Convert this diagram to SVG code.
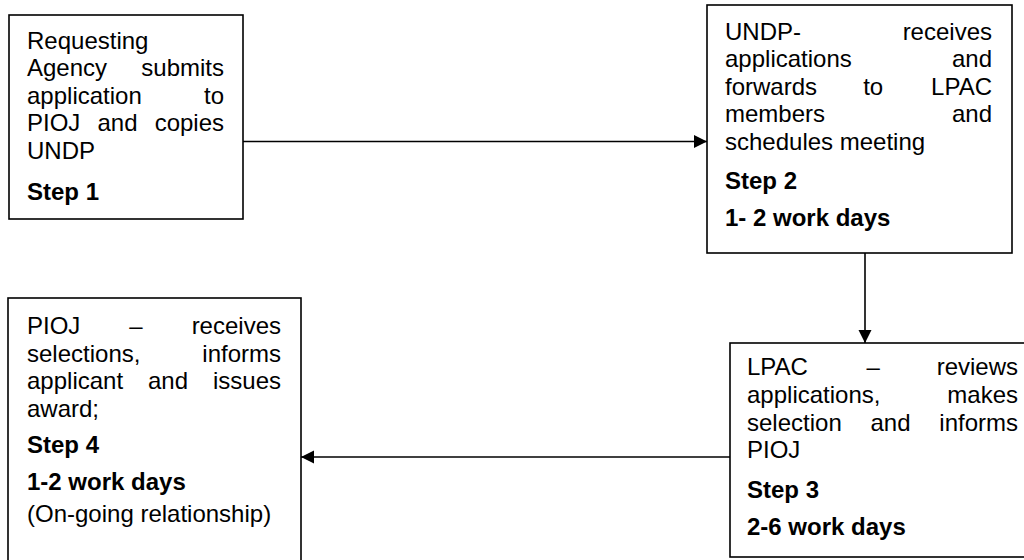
<svg xmlns="http://www.w3.org/2000/svg" width="1024" height="560" viewBox="0 0 1024 560">
<style>
.box{fill:#fff;stroke:#000;stroke-width:1.6}
.t{font-family:"Liberation Sans",Arial,sans-serif;font-size:24px;fill:#000}
.b{font-weight:bold}
.e{text-anchor:end}
.c{fill:none;stroke:#000;stroke-width:1.6}
</style>
<defs>
<marker id="ah" markerUnits="userSpaceOnUse" markerWidth="14" markerHeight="14" viewBox="0 0 14 14" refX="13" refY="7" orient="auto">
<path d="M0,0.5 L13,7 L0,13.5 Z" fill="#000"/>
</marker>
</defs>
<rect width="1024" height="560" fill="#fff"/>
<g id="connectors">
<line class="c" x1="243" y1="141.5" x2="707" y2="141.5" marker-end="url(#ah)"/>
<line class="c" x1="865" y1="253" x2="865" y2="343" marker-end="url(#ah)"/>
<line class="c" x1="730" y1="457" x2="301" y2="457" marker-end="url(#ah)"/>
</g>
<g id="step1">
<rect class="box" x="9" y="15" width="234" height="204"/>
<text class="t" x="27" y="48.5">Requesting</text>
<text class="t" x="27" y="76">Agency</text><text class="t e" x="224" y="76">submits</text>
<text class="t" x="27" y="103.5">application</text><text class="t e" x="224" y="103.5">to</text>
<text class="t" x="27" y="131">PIOJ</text><text class="t" x="97.5" y="131">and</text><text class="t e" x="224" y="131">copies</text>
<text class="t" x="27" y="158.5">UNDP</text>
<text class="t b" x="27" y="200">Step 1</text>
</g>
<g id="step2">
<rect class="box" x="707" y="5" width="305" height="248"/>
<text class="t" x="725" y="39.5">UNDP-</text><text class="t e" x="992" y="39.5">receives</text>
<text class="t" x="725" y="67">applications</text><text class="t e" x="992" y="67">and</text>
<text class="t" x="725" y="94.5">forwards</text><text class="t" x="863.2" y="94.5">to</text><text class="t e" x="992" y="94.5">LPAC</text>
<text class="t" x="725" y="122">members</text><text class="t e" x="992" y="122">and</text>
<text class="t" x="725" y="149.5">schedules meeting</text>
<text class="t b" x="725" y="189">Step 2</text>
<text class="t b" x="725" y="226">1- 2 work days</text>
</g>
<g id="step3">
<rect class="box" x="730" y="343" width="310" height="214"/>
<text class="t" x="747" y="375">LPAC</text><text class="t" x="866.5" y="375">–</text><text class="t e" x="1018" y="375">reviews</text>
<text class="t" x="747" y="403">applications,</text><text class="t e" x="1018" y="403">makes</text>
<text class="t" x="747" y="430.5">selection</text><text class="t" x="870.5" y="430.5">and</text><text class="t e" x="1018" y="430.5">informs</text>
<text class="t" x="747" y="458">PIOJ</text>
<text class="t b" x="747" y="498">Step 3</text>
<text class="t b" x="747" y="535">2-6 work days</text>
</g>
<g id="step4">
<rect class="box" x="8" y="298" width="293" height="280"/>
<text class="t" x="27" y="334">PIOJ</text><text class="t" x="129.3" y="334">–</text><text class="t e" x="281" y="334">receives</text>
<text class="t" x="27" y="361.5">selections,</text><text class="t e" x="281" y="361.5">informs</text>
<text class="t" x="27" y="389">applicant</text><text class="t" x="148" y="389">and</text><text class="t e" x="281" y="389">issues</text>
<text class="t" x="27" y="416.5">award;</text>
<text class="t b" x="27" y="453">Step 4</text>
<text class="t b" x="27" y="490">1-2 work days</text>
<text class="t" x="27" y="522">(On-going relationship)</text>
</g>
</svg>
